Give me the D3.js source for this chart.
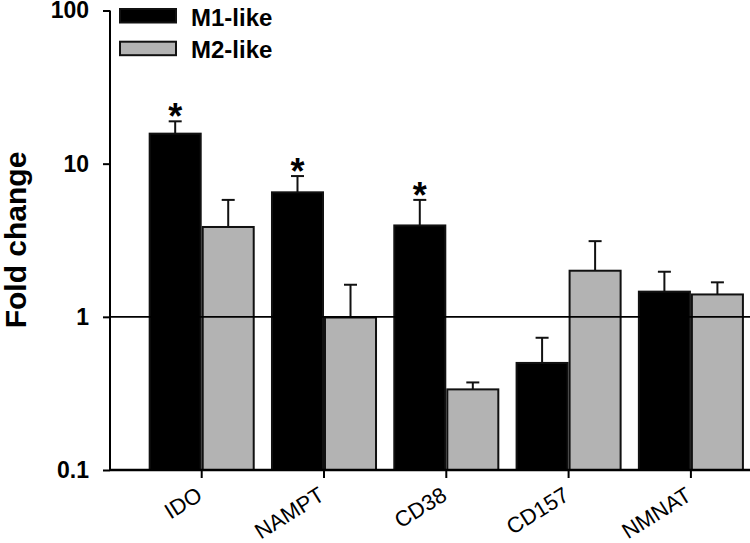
<!DOCTYPE html>
<html>
<head>
<meta charset="utf-8">
<script src="https://cdn.jsdelivr.net/npm/d3@7"></script>
<style>
  html, body { margin: 0; padding: 0; background: #fff; }
  svg { display: block; }
</style>
</head>
<body>
<svg id="chart" width="750" height="543"></svg>
<script>
const categories = ["IDO", "NAMPT", "CD38", "CD157", "NMNAT"];
const seriesNames = ["M1-like", "M2-like"];
const m1Values = [15.7, 6.5, 3.95, 0.50, 1.46];
const m1Errors = [18.9, 8.3, 5.8, 0.73, 1.97];   // top of error bar
const m2Values = [3.86, 0.99, 0.336, 2.0, 1.40];
const m2Errors = [5.8, 1.62, 0.373, 3.12, 1.68];  // top of error bar
const significant = [true, true, true, false, false]; // M1-like asterisk
const yTickValues = [0.1, 1, 10, 100];
const yTickLabels = ["0.1", "1", "10", "100"];
const yTitle = "Fold change";

const svg = d3.select("#chart");
const FONT = "'Liberation Sans', Arial, sans-serif";

const axisLeftX = 110, axisRightX = 750;
const y = d3.scaleLog().domain([0.1, 100]).range([470, 10.5]);
const x0 = d3.scaleBand().domain(categories).range([140.55, 752.05])
  .paddingInner(0.133).paddingOuter(0.0665);
const x1 = d3.scaleBand().domain(seriesNames).range([0, x0.bandwidth()]).padding(0);
const fills = {"M1-like": "#000000", "M2-like": "#b3b3b3"};

const rows = categories.map((c, i) => ({
  cat: c, sig: significant[i],
  vals: [
    {s: "M1-like", v: m1Values[i], e: m1Errors[i]},
    {s: "M2-like", v: m2Values[i], e: m2Errors[i]}
  ]
}));

const g = svg.append("g");
const groups = g.selectAll("g.grp").data(rows).join("g")
  .attr("transform", d => `translate(${x0(d.cat)},0)`);

// error bars
groups.selectAll("g.err").data(d => d.vals).join("g").each(function(d) {
  const cx = x1(d.s) + x1.bandwidth() / 2;
  const sel = d3.select(this);
  sel.append("line").attr("x1", cx).attr("x2", cx)
    .attr("y1", y(d.v)).attr("y2", y(d.e))
    .attr("stroke", "#111").attr("stroke-width", 2);
  sel.append("line").attr("x1", cx - 6.5).attr("x2", cx + 6.5)
    .attr("y1", y(d.e)).attr("y2", y(d.e))
    .attr("stroke", "#111").attr("stroke-width", 2);
});

groups.selectAll("rect").data(d => d.vals).join("rect")
  .attr("x", d => x1(d.s) + 1)
  .attr("width", x1.bandwidth() - 2)
  .attr("y", d => y(d.v))
  .attr("height", d => y(0.1) - y(d.v))
  .attr("fill", d => fills[d.s])
  .attr("stroke", "#111")
  .attr("stroke-width", 2);

// asterisks
groups.filter(d => d.sig).append("text")
  .attr("x", x1("M1-like") + x1.bandwidth() / 2)
  .attr("y", d => y(d.vals[0].e) + 8)
  .attr("text-anchor", "middle")
  .attr("font-family", FONT).attr("font-weight", "bold")
  .attr("font-size", 36).attr("fill", "#000")
  .text("*");

// reference line at 1
svg.append("line")
  .attr("x1", axisLeftX).attr("x2", axisRightX)
  .attr("y1", y(1)).attr("y2", y(1))
  .attr("stroke", "#000").attr("stroke-width", 1.6);

// y axis
const yAxis = d3.axisLeft(y).tickValues(yTickValues)
  .tickFormat((d, i) => yTickLabels[i]).tickSize(7).tickPadding(14);
const ya = svg.append("g").attr("transform", `translate(${axisLeftX},0)`).call(yAxis);
ya.select(".domain").remove();
ya.append("line").attr("x1", 0).attr("x2", 0).attr("y1", y(100)).attr("y2", y(0.1))
  .attr("stroke", "#000").attr("stroke-width", 2);
ya.selectAll(".tick line").attr("stroke", "#000").attr("stroke-width", 2);
ya.selectAll(".tick text").attr("font-family", FONT).attr("font-weight", "bold")
  .attr("font-size", 23).attr("fill", "#000");

// x axis
const xAxis = d3.axisBottom(x0).tickSize(8).tickFormat("");
const xa = svg.append("g").attr("transform", `translate(0,${y(0.1)})`).call(xAxis);
xa.select(".domain").remove();
xa.append("line").attr("x1", axisLeftX).attr("x2", axisRightX).attr("y1", 0).attr("y2", 0)
  .attr("stroke", "#000").attr("stroke-width", 2.5);
xa.selectAll(".tick line").attr("stroke", "#000").attr("stroke-width", 2);
xa.selectAll(".tick").append("text")
  .attr("transform", "translate(2,29) rotate(-32)")
  .attr("text-anchor", "end")
  .attr("font-family", FONT).attr("font-size", 22).attr("fill", "#000")
  .text(d => d);

// y title
svg.append("text")
  .attr("transform", `translate(26,240) rotate(-90)`)
  .attr("text-anchor", "middle")
  .attr("font-family", FONT).attr("font-weight", "bold").attr("font-size", 30)
  .attr("fill", "#000")
  .text(yTitle);

// legend
const legend = svg.append("g");
seriesNames.forEach((s, i) => {
  const ly = 9 + i * 32.7;
  legend.append("rect").attr("x", 120).attr("y", ly).attr("width", 56).attr("height", 13.5)
    .attr("fill", fills[s]).attr("stroke", "#111").attr("stroke-width", 2);
  legend.append("text").attr("x", 191).attr("y", ly + 16.5)
    .attr("font-family", FONT).attr("font-weight", "bold").attr("font-size", 24)
    .attr("fill", "#000").text(s);
});
</script>
</body>
</html>
